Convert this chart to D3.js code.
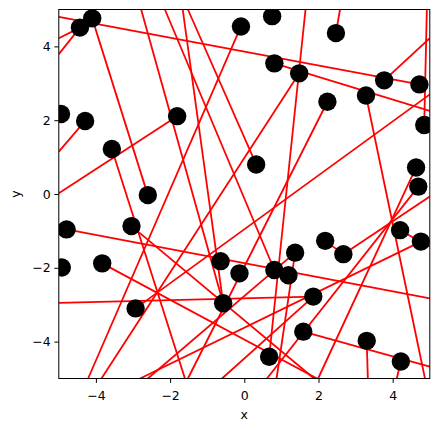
<!DOCTYPE html>
<html>
<head>
<meta charset="utf-8">
<script src="https://cdn.jsdelivr.net/npm/d3@7"></script>
<style>
body { margin: 0; background: #fff; }
text { font-family: "DejaVu Sans", sans-serif; }
</style>
</head>
<body>
<div id="container"></div>
<script>
// scatter points (data units)
var px = [-4.43, -4.10, -4.94, -4.29, -1.81, -3.57, -2.60, -4.79, -4.92, -3.83,
          -3.04, -2.93, -0.64, -0.57, -0.13, -0.09, 0.75, 0.81, 0.32, 0.81,
          1.19, 1.37, 1.48, 2.24, 2.47, 1.86, 2.18, 2.67, 1.59, 0.67,
          3.30, 3.77, 3.28, 4.72, 4.85, 4.63, 4.69, 4.20, 4.76, 4.22];
var py = [4.51, 4.76, 2.17, 1.98, 2.11, 1.22, -0.03, -0.96, -1.99, -1.88,
          -0.87, -3.10, -1.82, -2.96, -2.15, 4.54, 4.82, 3.54, 0.80, -2.06,
          -2.20, -1.59, 3.27, 2.50, 4.36, -2.78, -1.27, -1.63, -3.73, -4.41,
          -3.98, 3.08, 2.67, 2.97, 1.87, 0.72, 0.20, -0.98, -1.29, -4.54];

// line segments: start / end (data units, clipped to the axes)
var segX1 = [-5.00, 0.81, 3.77, 4.92, 3.28, 5.00, -4.43, -4.43, -4.10, -5.00,
             -4.29, -3.57, -2.78, -2.14, -1.66, -1.52, -0.09, 1.65, 2.47, 1.48,
             2.24, 4.63, -4.79, -5.00, -3.83, -3.04, 5.00, 4.69, 1.59, 3.30,
             4.22, -2.81, -2.60, 1.37, 4.20, -0.60, 2.18];
var segY1 = [4.80, 3.54, 3.08, 5.00, 2.67, 2.70, 4.51, 4.51, 4.76, 0.02,
             1.98, 1.22, 5.00, 5.00, 5.00, 5.00, 4.54, 5.00, 4.36, 3.27,
             2.50, 0.72, -0.96, -2.95, -1.88, -0.87, -0.07, 0.20, -3.73, -3.98,
             -4.54, -5.00, -5.00, -1.59, -0.98, -5.00, -1.27];
var segX2 = [4.72, 5.00, 5.00, 4.85, 4.87, -2.93, -5.00, -5.00, -2.60, -1.81,
             -5.00, -1.60, -0.57, 0.81, -0.57, 0.32, -4.21, 0.67, 2.58, -3.85,
             -1.52, 1.99, 5.00, 1.86, 1.96, 1.88, 2.67, 0.61, 5.00, 3.33,
             4.11, 4.76, 1.37, 0.87, 5.00, 1.86, 2.67];
var segY2 = [2.97, 2.25, 4.22, 1.87, -5.00, -3.10, 4.22, 3.79, -0.03, 2.11,
             1.15, -5.00, -2.96, -2.06, -2.96, 0.80, -5.00, -4.41, 5.00, -5.00,
             -5.00, -5.00, -2.83, -2.78, -5.00, -5.00, -1.63, -5.00, -4.68, -5.00,
             -5.00, -1.29, -1.59, -5.00, -1.43, -2.78, -1.63];

var xTicks = [-4, -2, 0, 2, 4],
    yTicks = [-4, -2, 0, 2, 4];

var W = 439, H = 432,
    margin = {top: 9.5, right: 9.2, bottom: 53.5, left: 58.8},
    w = W - margin.left - margin.right,
    h = H - margin.top - margin.bottom;

var svg = d3.select('#container').append('svg')
    .attr('width', W)
    .attr('height', H);

var xScale = d3.scaleLinear().domain([-5, 5]).range([margin.left, margin.left + w]);
var yScale = d3.scaleLinear().domain([-5, 5]).range([margin.top + h, margin.top]);

svg.append('clipPath').attr('id', 'plotclip')
  .append('rect')
    .attr('x', margin.left).attr('y', margin.top)
    .attr('width', w).attr('height', h);

var plot = svg.append('g').attr('clip-path', 'url(#plotclip)');

/* red lines */
plot.append('g').selectAll('line')
    .data(d3.range(segX1.length))
  .enter().append('line')
    .attr('x1', i => xScale(segX1[i])).attr('y1', i => yScale(segY1[i]))
    .attr('x2', i => xScale(segX2[i])).attr('y2', i => yScale(segY2[i]))
    .attr('stroke', 'red')
    .attr('stroke-width', 1.8);

/* black dots */
plot.append('g').selectAll('circle')
    .data(d3.range(px.length))
  .enter().append('circle')
    .attr('cx', i => xScale(px[i]))
    .attr('cy', i => yScale(py[i]))
    .attr('r', 9.2)
    .attr('fill', 'black');

/* axes */
var fmt = d => d < 0 ? '\u2212' + Math.abs(d) : String(d);

var xAxis = d3.axisBottom(xScale).tickValues(xTicks).tickFormat(fmt).tickSizeOuter(0).tickSize(4.4).tickPadding(7.8);
var yAxis = d3.axisLeft(yScale).tickValues(yTicks).tickFormat(fmt).tickSizeOuter(0).tickSize(4.4).tickPadding(3.6);

svg.append('g')
    .attr('transform', `translate(0, ${margin.top + h})`)
    .call(xAxis)
    .call(g => g.select('.domain').remove())
    .selectAll('text').attr('font-size', 12.5).attr('fill', 'black').style('font-family', 'DejaVu Sans');

svg.append('g')
    .attr('transform', `translate(${margin.left}, 0)`)
    .call(yAxis)
    .call(g => g.select('.domain').remove())
    .selectAll('text').attr('font-size', 12.5).attr('fill', 'black').style('font-family', 'DejaVu Sans');

svg.selectAll('.tick line').attr('stroke', 'black').attr('stroke-width', 1);

// frame
svg.append('rect')
    .attr('x', margin.left).attr('y', margin.top)
    .attr('width', w).attr('height', h)
    .attr('fill', 'none')
    .attr('stroke', 'black')
    .attr('stroke-width', 1);

svg.append('text')
    .attr('x', margin.left + w / 2).attr('y', 418.5)
    .attr('text-anchor', 'middle')
    .attr('font-size', 12.5)
    .text('x');

svg.append('text')
    .attr('transform', `translate(20, ${margin.top + h / 2}) rotate(-90)`)
    .attr('text-anchor', 'middle')
    .attr('font-size', 12.5)
    .text('y');
</script>
</body>
</html>
